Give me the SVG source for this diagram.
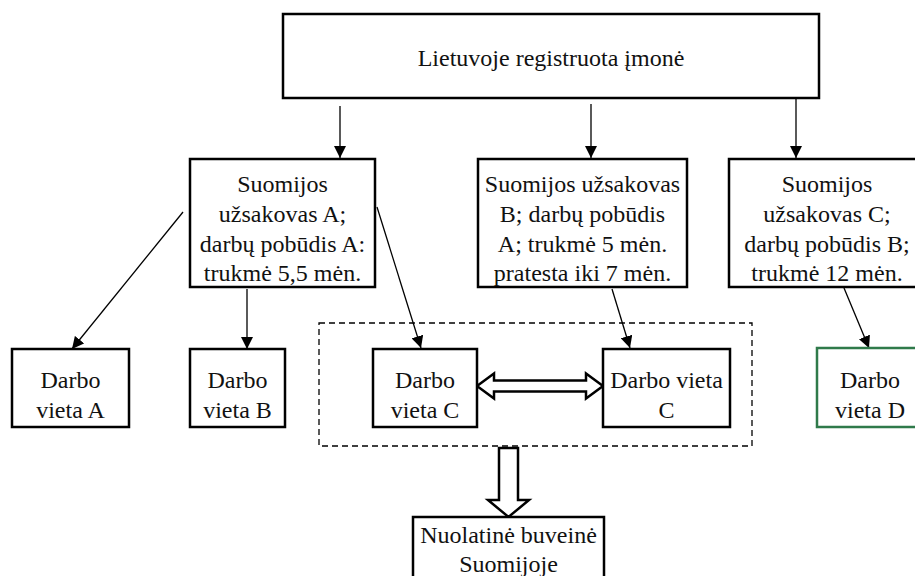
<svg xmlns="http://www.w3.org/2000/svg" width="915" height="576" viewBox="0 0 915 576">
  <style>
    .box { fill: #fff; stroke: #000; stroke-width: 2.5; }
    .green { fill: #fff; stroke: #2f7a4a; stroke-width: 2.5; }
    .lbl { font-family: "Liberation Serif", "Times New Roman", serif; font-size: 24px; fill: #111; text-anchor: middle; }
    .conn { stroke: #000; stroke-width: 1.3; fill: none; marker-end: url(#head); }
    .dash { fill: none; stroke: #000; stroke-width: 1.3; stroke-dasharray: 6 4; }
    .hollow { fill: #fff; stroke: #000; stroke-width: 2.5; stroke-linejoin: miter; }
  </style>
  <defs>
    <marker id="head" viewBox="0 0 12 12" refX="12" refY="6" markerWidth="12" markerHeight="12" markerUnits="userSpaceOnUse" orient="auto">
      <path d="M0,0 L12,6 L0,12 Z" fill="#000"/>
    </marker>
  </defs>
  <rect width="915" height="576" fill="#fff"/>

  <!-- grouping frame around the two work sites C -->
  <rect class="dash" x="319" y="323" width="433" height="123"/>

  <g id="connectors">
    <line class="conn" x1="340" y1="106" x2="340" y2="158"/>
    <line class="conn" x1="591" y1="104" x2="591" y2="158"/>
    <line class="conn" x1="796" y1="98" x2="796" y2="158"/>
    <line class="conn" x1="183" y1="212" x2="72" y2="349"/>
    <line class="conn" x1="247" y1="289" x2="247" y2="349"/>
    <line class="conn" x1="377" y1="207" x2="421" y2="348"/>
    <line class="conn" x1="612" y1="289" x2="630" y2="348"/>
    <line class="conn" x1="844" y1="288" x2="869" y2="348"/>
    <!-- double-headed hollow arrow between the C sites -->
    <path class="hollow" d="M477,386 L494,373.5 L494,380.5 L586,380.5 L586,373.5 L603,386 L586,398.5 L586,391.5 L494,391.5 L494,398.5 Z"/>
    <!-- hollow arrow down to the permanent establishment -->
    <path class="hollow" d="M499,448 L518,448 L518,500 L529,500 L508.5,517 L488,500 L499,500 Z"/>
  </g>

  <g id="company">
    <rect class="box" x="283" y="14" width="536" height="84"/>
    <text class="lbl" x="551" y="66">Lietuvoje registruota įmonė</text>
  </g>

  <g id="client-a">
    <rect class="box" x="190" y="159" width="185" height="128"/>
    <text class="lbl" x="282.5" y="192">Suomijos</text>
    <text class="lbl" x="282.5" y="222">užsakovas A;</text>
    <text class="lbl" x="282.5" y="252">darbų pobūdis A:</text>
    <text class="lbl" x="282.5" y="281">trukmė 5,5 mėn.</text>
  </g>

  <g id="client-b">
    <rect class="box" x="478" y="159" width="209" height="128"/>
    <text class="lbl" x="582.5" y="192">Suomijos užsakovas</text>
    <text class="lbl" x="582.5" y="222">B; darbų pobūdis</text>
    <text class="lbl" x="582.5" y="252">A; trukmė 5 mėn.</text>
    <text class="lbl" x="582.5" y="281">pratesta iki 7 mėn.</text>
  </g>

  <g id="client-c">
    <rect class="box" x="729" y="159" width="196" height="128"/>
    <text class="lbl" x="827" y="192">Suomijos</text>
    <text class="lbl" x="827" y="222">užsakovas C;</text>
    <text class="lbl" x="827" y="252">darbų pobūdis B;</text>
    <text class="lbl" x="827" y="281">trukmė 12 mėn.</text>
  </g>

  <g id="site-a">
    <rect class="box" x="12" y="349" width="117" height="78"/>
    <text class="lbl" x="70.5" y="388">Darbo</text>
    <text class="lbl" x="70.5" y="418">vieta A</text>
  </g>

  <g id="site-b">
    <rect class="box" x="190" y="349" width="95" height="78"/>
    <text class="lbl" x="237.5" y="388">Darbo</text>
    <text class="lbl" x="237.5" y="418">vieta B</text>
  </g>

  <g id="site-c1">
    <rect class="box" x="373" y="349" width="104" height="78"/>
    <text class="lbl" x="425" y="388">Darbo</text>
    <text class="lbl" x="425" y="418">vieta C</text>
  </g>

  <g id="site-c2">
    <rect class="box" x="603" y="349" width="127" height="78"/>
    <text class="lbl" x="666.5" y="388">Darbo vieta</text>
    <text class="lbl" x="666.5" y="418">C</text>
  </g>

  <g id="site-d">
    <rect class="green" x="817" y="348" width="106" height="79"/>
    <text class="lbl" x="870" y="388">Darbo</text>
    <text class="lbl" x="870" y="418">vieta D</text>
  </g>

  <g id="establishment">
    <rect class="box" x="413" y="517" width="191" height="70"/>
    <text class="lbl" x="508.5" y="543">Nuolatinė buveinė</text>
    <text class="lbl" x="508.5" y="572">Suomijoje</text>
  </g>
</svg>
